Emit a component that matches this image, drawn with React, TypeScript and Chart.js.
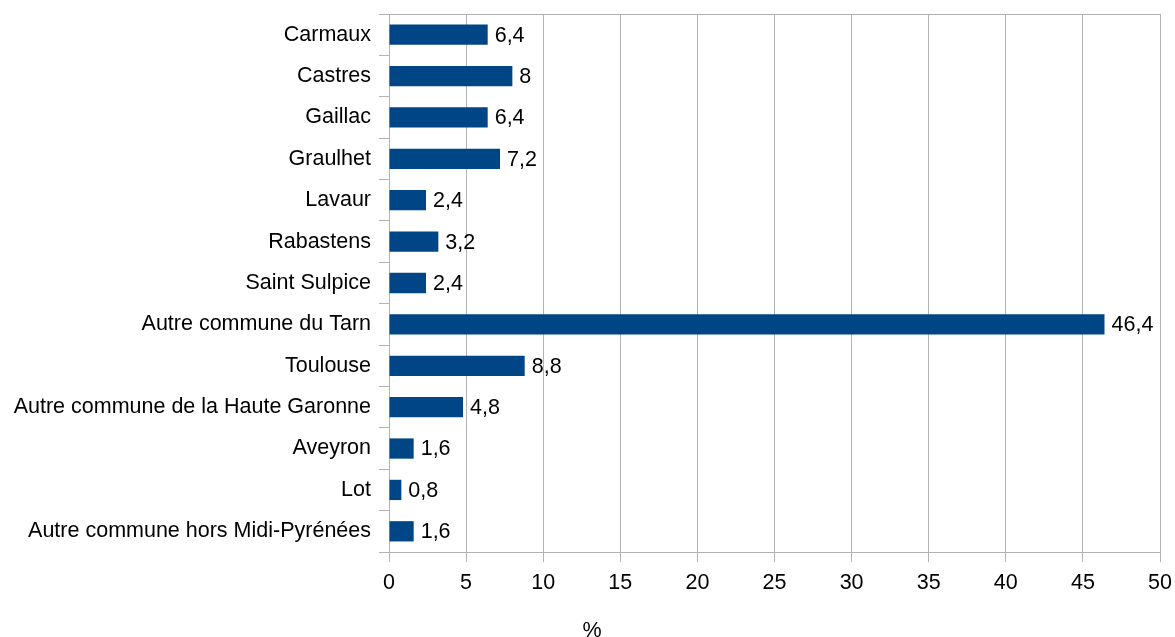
import React, { useEffect, useRef } from "react";
import { Chart, registerables } from "chart.js";

Chart.register(...registerables);

const categories = [
  "Carmaux",
  "Castres",
  "Gaillac",
  "Graulhet",
  "Lavaur",
  "Rabastens",
  "Saint Sulpice",
  "Autre commune du Tarn",
  "Toulouse",
  "Autre commune de la Haute Garonne",
  "Aveyron",
  "Lot",
  "Autre commune hors Midi-Pyrénées",
];
const values = [6.4, 8, 6.4, 7.2, 2.4, 3.2, 2.4, 46.4, 8.8, 4.8, 1.6, 0.8, 1.6];
const axisTitle = "%";

const FONT = "'Liberation Sans', Arial, sans-serif";
const FS = 21.5;
const GRID = "#b3b3b3";

const valueLabels = {
  id: "valueLabels",
  afterDatasetsDraw(chart: any) {
    const ctx = chart.ctx;
    const meta = chart.getDatasetMeta(0);
    ctx.save();
    ctx.font = `${FS}px ${FONT}`;
    ctx.fillStyle = "#000";
    ctx.textAlign = "left";
    ctx.textBaseline = "middle";
    meta.data.forEach((bar: any, i: number) => {
      const v = chart.data.datasets[0].data[i] as number;
      ctx.fillText(String(v).replace(".", ","), bar.x + 7, bar.y + 1);
    });
    ctx.restore();
  },
};

const frame = {
  id: "frame",
  afterDraw(chart: any) {
    const ctx = chart.ctx;
    const a = chart.chartArea;
    ctx.save();
    ctx.strokeStyle = GRID;
    ctx.lineWidth = 1;
    ctx.beginPath();
    ctx.moveTo(a.left, Math.round(a.top) + 0.5);
    ctx.lineTo(a.right, Math.round(a.top) + 0.5);
    ctx.stroke();
    ctx.font = `${FS}px ${FONT}`;
    ctx.fillStyle = "#000";
    ctx.textAlign = "center";
    ctx.textBaseline = "alphabetic";
    ctx.fillText(axisTitle, 592, 637);
    ctx.restore();
  },
};

export default function App() {
  const ref = useRef<HTMLCanvasElement>(null);
  useEffect(() => {
    const chart = new Chart(ref.current!, {
      type: "bar",
      data: {
        labels: categories,
        datasets: [
          {
            data: values,
            backgroundColor: "#004586",
            categoryPercentage: 1,
            barPercentage: 0.49,
          },
        ],
      },
      options: {
        indexAxis: "y",
        responsive: false,
        animation: false,
        layout: { padding: { top: 14, right: 15, left: 0, bottom: 0 } },
        plugins: {
          legend: { display: false },
          tooltip: { enabled: false },
        },
        scales: {
          x: {
            min: 0,
            max: 50,
            ticks: {
              stepSize: 5,
              color: "#000",
              font: { family: FONT, size: FS },
              padding: 8,
            },
            grid: { color: GRID, tickLength: 10, tickColor: GRID },
            border: { color: GRID },
            afterFit(scale: any) {
              scale.height = 85;
              scale.paddingLeft = 0;
              scale.paddingRight = 0;
            },
          },
          y: {
            ticks: {
              color: "#000",
              font: { family: FONT, size: FS },
              padding: 8,
            },
            grid: {
              offset: true,
              drawOnChartArea: false,
              tickLength: 10,
              color: GRID,
              tickColor: GRID,
            },
            border: { color: GRID },
            afterFit(scale: any) {
              scale.width = 389;
              scale.paddingTop = 0;
              scale.paddingBottom = 0;
            },
          },
        },
      },
      plugins: [valueLabels, frame],
    });
    return () => chart.destroy();
  }, []);
  return (
    <div style={{ position: "absolute", left: 0, top: 0, width: 1175, height: 637, background: "#fff" }}>
      <canvas ref={ref} width={1175} height={637} />
    </div>
  );
}
